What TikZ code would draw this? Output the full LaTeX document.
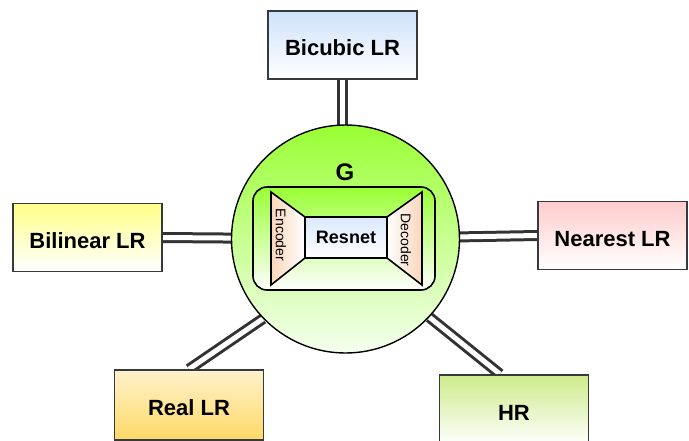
\documentclass[tikz,border=0pt]{standalone}
\usepackage{fontspec}
\setmainfont{Liberation Sans}
\usetikzlibrary{backgrounds}
\definecolor{connc}{HTML}{333333}
\definecolor{boxline}{HTML}{36393D}
\definecolor{bicubictop}{HTML}{CFE2FB}
\definecolor{bilineartop}{HTML}{FFFF88}
\definecolor{nearesttop}{HTML}{FFCCCC}
\definecolor{realtop}{HTML}{FFF2CC}
\definecolor{realbot}{HTML}{FFD966}
\definecolor{hrtop}{HTML}{CDEB8B}
\definecolor{gtop}{HTML}{99FF33}
\definecolor{gbot}{HTML}{F5FFEF}
\definecolor{restop}{HTML}{DAE8FC}
\definecolor{peach}{HTML}{F9D6BA}
\begin{document}
\begin{tikzpicture}[x=1pt,y=-1pt,
  box/.style={draw=boxline, line width=1.8pt, minimum width=149pt, minimum height=68pt,
    font=\fontsize{22}{26}\selectfont\bfseries, inner sep=0pt, text height=21pt, text depth=0pt},
  conn/.style={draw=connc, line width=3pt, double=white, double distance=5pt},
  inner/.style={draw=black, line width=1.6pt}]
\useasboundingbox (0,0) rectangle (689,440);

% generator circle
\node[circle, draw=black, line width=1.4pt, minimum size=228pt, inner sep=0pt,
      top color=gtop, bottom color=gbot] (G) at (345.5,239) {};
\node[font=\fontsize{24}{28}\selectfont\bfseries] (glabel) at (345,172) {G};

% inner block
\node[inner, rounded corners=14pt, minimum width=182pt, minimum height=103pt,
      top color=gtop, bottom color=white] (blk) at (344,238.5) {};
\path[inner, left color=peach, right color=white]
  (271,192) -- (305,217) -- (305,258) -- (271,285) -- cycle;
\path[inner, left color=white, right color=peach]
  (387,217) -- (422,192) -- (422,285) -- (387,258) -- cycle;
\node[inner, minimum width=82pt, minimum height=41pt, inner sep=0pt,
      top color=restop, bottom color=white,
      font=\fontsize{18}{22}\selectfont\bfseries] (resnet) at (346,237.5) {Resnet};
\node[rotate=-90, font=\fontsize{14}{16}\selectfont] (enc) at (281,235) {Encoder};
\node[rotate=-90, font=\fontsize{14}{16}\selectfont] (dec) at (406,240) {Decoder};

% outer boxes
\node[box, top color=bicubictop, bottom color=white] (bicubic) at (342.5,45) {Bicubic LR};
\node[box, top color=bilineartop, bottom color=white] (bilinear) at (87.5,237.5) {Bilinear LR};
\node[box, top color=nearesttop, bottom color=white] (nearest) at (612.5,235.5) {Nearest LR};
\node[box, minimum height=70pt, top color=realtop, bottom color=realbot] (real) at (189,405) {Real LR};
\node[box, minimum height=70pt, top color=hrtop, bottom color=white] (hr) at (514,410) {HR};

% connectors
\begin{scope}[on background layer]
\draw[conn] (bicubic.south) -- (bicubic.south |- G.center);
\draw[conn] (bilinear.east) -- (G.center);
\draw[conn] (nearest.west) -- (G.center);
\draw[conn] (real.north) -- (G.224);
\draw[conn] ([xshift=-14pt]hr.north) -- (G.-43);
\end{scope}
\end{tikzpicture}
\end{document}
